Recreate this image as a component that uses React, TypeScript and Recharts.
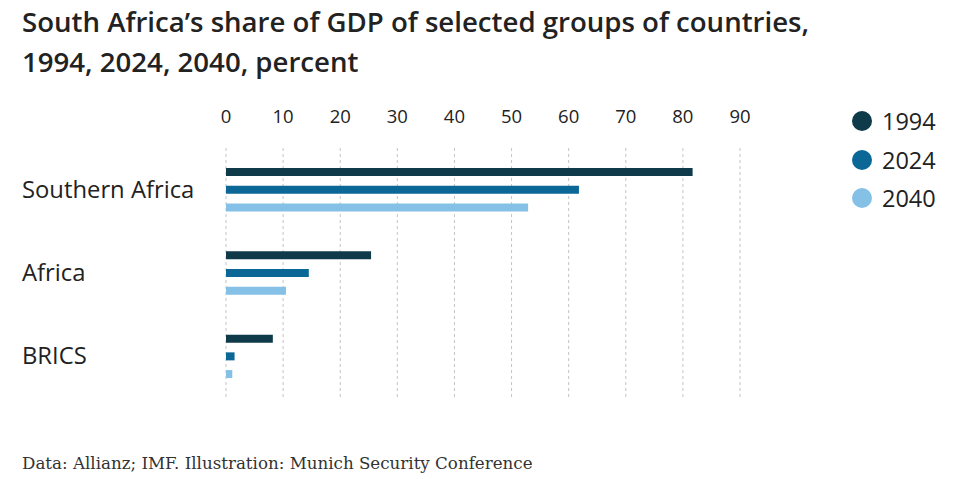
import React from 'react'
import {
  BarChart,
  Bar,
  XAxis,
  YAxis,
  CartesianGrid,
} from 'recharts'

const regions = ['Southern Africa', 'Africa', 'BRICS']
const share1994 = [81.7, 25.4, 8.2]
const share2024 = [61.8, 14.5, 1.5]
const share2040 = [52.9, 10.5, 1.1]
const xTicks = [0, 10, 20, 30, 40, 50, 60, 70, 80, 90]

const series = [
  { key: 'y1994', label: '1994', color: '#0e3a4a' },
  { key: 'y2024', label: '2024', color: '#0b6796' },
  { key: 'y2040', label: '2040', color: '#85c1e6' },
]

const chartData = regions.map((name, i) => ({
  name,
  y1994: share1994[i],
  y2024: share2024[i],
  y2040: share2040[i],
}))

const sans = '"Open Sans", "Noto Sans", sans-serif'

function RegionTick({ y, payload }: any) {
  return (
    <text x={22} y={y} dy={8} textAnchor="start" fontFamily={sans} fontSize={23.8} fill="#222">
      {payload.value}
    </text>
  )
}

export default function App() {
  return (
    <div style={{ position: 'absolute', left: 0, top: 0, width: 960, height: 479, background: '#fff' }}>
      <div
        style={{
          position: 'absolute',
          left: 22,
          top: 1,
          fontFamily: sans,
          fontWeight: 600,
          fontSize: 27.6,
          lineHeight: '40px',
          color: '#222',
          whiteSpace: 'nowrap',
        }}
      >
        South Africa’s share of GDP of selected groups of countries,
        <br />
        1994, 2024, 2040, percent
      </div>
      <div style={{ position: 'absolute', left: 0, top: 0 }}>
        <BarChart
          width={960}
          height={479}
          data={chartData}
          layout="vertical"
          margin={{ top: 100, right: 220, bottom: 81, left: 26 }}
          barSize={8}
          barGap={9.7}
        >
          <CartesianGrid vertical horizontal={false} stroke="#c4c4c4" strokeDasharray="3 3" />
          <XAxis
            type="number"
            orientation="top"
            domain={[0, 90]}
            ticks={xTicks}
            height={48}
            axisLine={false}
            tickLine={false}
            tickMargin={19}
            tick={{ fontFamily: sans, fontSize: 18.5, fill: '#222' }}
          />
          <YAxis
            type="category"
            dataKey="name"
            width={200}
            axisLine={false}
            tickLine={false}
            tick={<RegionTick />}
          />
          {series.map((s) => (
            <Bar key={s.key} dataKey={s.key} name={s.label} fill={s.color} isAnimationActive={false} />
          ))}
        </BarChart>
      </div>
      <div style={{ position: 'absolute', left: 852, top: 102, fontFamily: sans }}>
        {series.map((s) => (
          <div key={s.key} style={{ display: 'flex', alignItems: 'center', height: 38.5 }}>
            <span
              style={{
                width: 20,
                height: 20,
                borderRadius: '50%',
                background: s.color,
                display: 'inline-block',
                marginRight: 10,
              }}
            />
            <span style={{ fontSize: 23.5, color: '#222' }}>{s.label}</span>
          </div>
        ))}
      </div>
      <div
        style={{
          position: 'absolute',
          left: 22,
          top: 453,
          fontFamily: '"DejaVu Serif", serif',
          fontSize: 16.7,
          color: '#333',
          whiteSpace: 'nowrap',
        }}
      >
        Data: Allianz; IMF. Illustration: Munich Security Conference
      </div>
    </div>
  )
}
